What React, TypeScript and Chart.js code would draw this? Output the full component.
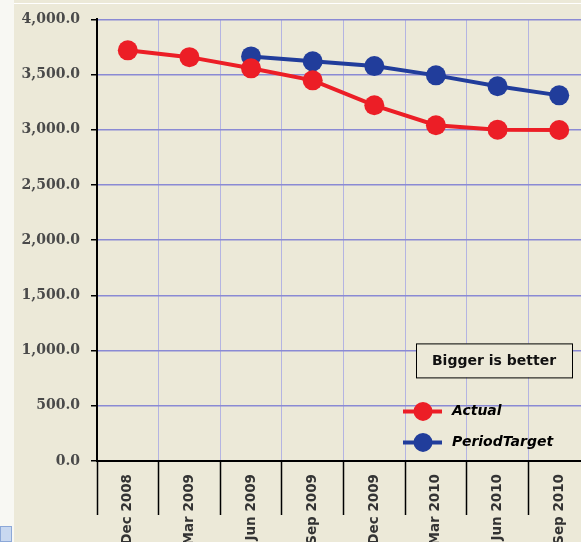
import React, { useEffect, useRef } from "react";
import { Chart, registerables } from "chart.js";

Chart.register(...registerables);

const categories = ["Dec 2008", "Mar 2009", "Jun 2009", "Sep 2009", "Dec 2009", "Mar 2010", "Jun 2010", "Sep 2010"];
const actualValues = [3720, 3658, 3557, 3448, 3222, 3041, 3001, 2998];
const targetValues: (number | null)[] = [null, null, 3665, 3620, 3577, 3493, 3394, 3312];
const yTicks = [0, 500, 1000, 1500, 2000, 2500, 3000, 3500, 4000];
const seriesNames = ["Actual", "PeriodTarget"];
const noteText = "Bigger is better";

const RED = "#EC1E26";
const BLUE = "#213D9B";
const BG = "#ECE9D8";

const overlayPlugin = {
  id: "overlay",
  afterDraw(chart: any) {
    const ctx = chart.ctx as CanvasRenderingContext2D;
    const area = chart.chartArea;
    const x0 = area.left + 319;
    const y0 = area.top + 324;
    ctx.save();
    ctx.fillStyle = BG;
    ctx.fillRect(x0, y0, 157, 34);
    ctx.strokeStyle = "#000";
    ctx.lineWidth = 1;
    ctx.strokeRect(x0 + 0.5, y0 + 0.5, 156, 34);
    ctx.fillStyle = "#111";
    ctx.font = "bold 14px 'DejaVu Sans'";
    ctx.textAlign = "center";
    ctx.textBaseline = "middle";
    ctx.fillText(noteText, x0 + 78, y0 + 18);
    const colors = [RED, BLUE];
    seriesNames.forEach((name, i) => {
      const ly = area.top + 392 + i * 31;
      ctx.strokeStyle = colors[i];
      ctx.lineWidth = 4;
      ctx.beginPath();
      ctx.moveTo(area.left + 306, ly);
      ctx.lineTo(area.left + 345, ly);
      ctx.stroke();
      ctx.fillStyle = colors[i];
      ctx.beginPath();
      ctx.arc(area.left + 326, ly, 9.5, 0, Math.PI * 2);
      ctx.fill();
      ctx.fillStyle = "#000";
      ctx.font = "italic bold 14px 'DejaVu Sans'";
      ctx.textAlign = "left";
      ctx.textBaseline = "middle";
      ctx.fillText(name, area.left + 355, ly);
    });
    ctx.restore();
  },
};

export default function App() {
  const ref = useRef<HTMLCanvasElement | null>(null);
  useEffect(() => {
    if (!ref.current) return;
    const chart = new Chart(ref.current, {
      type: "line",
      data: {
        labels: categories,
        datasets: [
          {
            label: seriesNames[0],
            data: actualValues,
            borderColor: RED,
            backgroundColor: RED,
            pointBackgroundColor: RED,
            pointBorderColor: RED,
            pointBorderWidth: 0,
            pointRadius: 10,
            borderWidth: 4,
            tension: 0,
          },
          {
            label: seriesNames[1],
            data: targetValues,
            borderColor: BLUE,
            backgroundColor: BLUE,
            pointBackgroundColor: BLUE,
            pointBorderColor: BLUE,
            pointBorderWidth: 0,
            pointRadius: 10,
            borderWidth: 4,
            tension: 0,
          },
        ],
      },
      options: {
        responsive: false,
        animation: false,
        events: [],
        layout: { padding: { top: 19, right: 5, left: 0, bottom: 0 } },
        plugins: { legend: { display: false }, tooltip: { enabled: false }, title: { display: false } },
        scales: {
          x: {
            offset: true,
            afterFit: (s: any) => {
              s.height = 81;
            },
            grid: {
              offset: true,
              color: "#B4B4E2",
              lineWidth: 1,
              tickColor: "#000",
              tickLength: 54,
              tickWidth: 1.5,
            },
            border: { color: "#000", width: 2 },
            ticks: {
              autoSkip: false,
              maxRotation: 90,
              minRotation: 90,
              padding: -41,
              color: "#333",
              font: { family: "'DejaVu Sans'", size: 13.5, weight: "bold" },
            },
          },
          y: {
            min: 0,
            max: 4000,
            afterFit: (s: any) => {
              s.width = 97;
            },
            afterBuildTicks: (s: any) => {
              s.ticks = yTicks.map((v) => ({ value: v }));
            },
            grid: {
              color: "#8A8AD4",
              lineWidth: 1.5,
              tickColor: "#000",
              tickLength: 6,
              tickWidth: 1.5,
            },
            border: { color: "#000", width: 2 },
            ticks: {
              padding: 11,
              color: "#4A4A4A",
              font: { family: "'DejaVu Serif'", size: 14, weight: "bold" },
              callback: (v: any) =>
                Number(v).toLocaleString("en-US", { minimumFractionDigits: 1, maximumFractionDigits: 1 }),
            },
          },
        },
      },
      plugins: [overlayPlugin],
    });
    return () => chart.destroy();
  }, []);

  return (
    <div
      style={{
        position: "fixed",
        left: 0,
        top: 0,
        width: 581,
        height: 542,
        overflow: "hidden",
        background: BG,
      }}
    >
      <div style={{ position: "absolute", left: 0, top: 0, width: 14, height: 542, background: "#F8F8F3" }} />
      <div style={{ position: "absolute", left: 14, top: 3, width: 567, height: 1, background: "#FFFFFF" }} />
      <div
        style={{
          position: "absolute",
          left: 0,
          top: 526,
          width: 12,
          height: 16,
          background: "#C8D8F0",
          border: "1px solid #8CA8D8",
          boxSizing: "border-box",
        }}
      />
      <canvas
        ref={ref}
        width={600}
        height={542}
        style={{ position: "absolute", left: 0, top: 0, width: 600, height: 542 }}
      />
    </div>
  );
}
